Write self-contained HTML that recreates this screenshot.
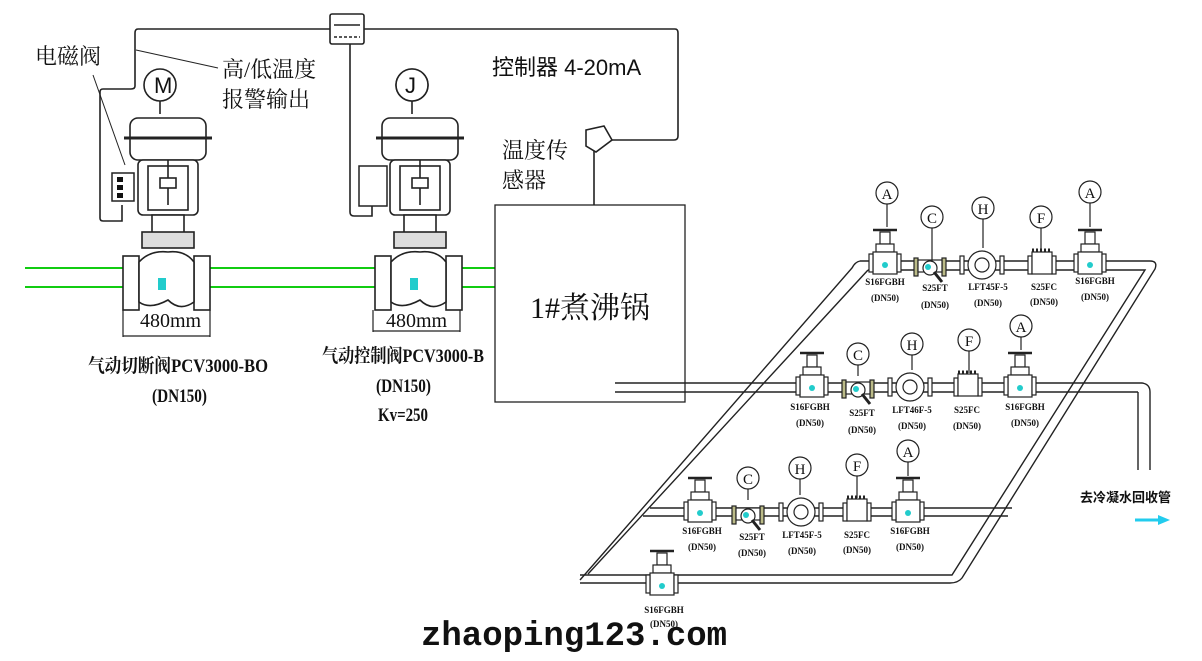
<!DOCTYPE html>
<html><head><meta charset="utf-8"><style>
html,body{margin:0;padding:0;background:#fff;}
svg{display:block;}
text{font-family:"Liberation Serif","Noto Serif CJK SC","Noto Sans CJK SC",serif;fill:#111;}
.s{font-family:"Liberation Sans","Noto Sans CJK SC",sans-serif;}
.n{font-family:"Liberation Sans Narrow","Liberation Sans",sans-serif;font-weight:bold;}
</style></head><body>
<svg width="1202" height="661" viewBox="0 0 1202 661" xmlns="http://www.w3.org/2000/svg">
<defs>
<g id="gv" stroke="#222" fill="#fff" stroke-width="1.2">
  <line x1="-12" y1="-32" x2="12" y2="-32" stroke-width="2.5"/>
  <rect x="-5" y="-30" width="10" height="12"/>
  <rect x="-9" y="-18" width="18" height="8"/>
  <rect x="-12" y="-10" width="24" height="22"/>
  <rect x="-16" y="-8" width="4" height="18"/>
  <rect x="12" y="-8" width="4" height="18"/>
  <circle cx="0" cy="3" r="3" fill="#2cc" stroke="none"/>
</g>
<g id="gc" stroke="#222" fill="#fff" stroke-width="1.2">
  <rect x="-16" y="-8" width="4" height="18" fill="#bb8"/>
  <rect x="12" y="-8" width="4" height="18" fill="#bb8"/>
  <rect x="-12" y="-6" width="24" height="12"/>
  <circle cx="0" cy="2" r="7"/>
  <circle cx="-2" cy="1" r="3" fill="#2cc" stroke="none"/>
  <line x1="4" y1="6" x2="12" y2="16" stroke-width="3"/>
</g>
<g id="gh" stroke="#222" fill="#fff" stroke-width="1.2">
  <rect x="-22" y="-8" width="4" height="18"/>
  <rect x="18" y="-8" width="4" height="18"/>
  <circle cx="0" cy="1" r="14"/>
  <circle cx="0" cy="1" r="7"/>
</g>
<g id="gf" stroke="#222" fill="#fff" stroke-width="1.2">
  <rect x="-14" y="-8" width="4" height="18"/>
  <rect x="10" y="-8" width="4" height="18"/>
  <rect x="-10" y="-12" width="20" height="22"/>
  <line x1="-10" y1="-14" x2="10" y2="-14" stroke-dasharray="2 2" stroke-width="3"/>
</g>
</defs>

<!-- wiring -->
<g fill="none" stroke="#222" stroke-width="1.6">
  <rect x="330" y="14" width="34" height="30" rx="2" fill="#fff"/>
  <line x1="334" y1="25" x2="360" y2="25"/>
  <line x1="334" y1="37" x2="360" y2="37" stroke-dasharray="3 2"/>
  <path d="M330 29 H138 Q135 29 135 33 V86 Q135 89 131 89 H103 Q100 89 100 92 V218 Q100 221 103 221 H122 V205"/>
  <path d="M364 29 H675 Q678 29 678 33 V136 Q678 140 674 140 H610"/>
  <path d="M350 44 V212 Q350 216 354 216 H372 V205"/>
  <line x1="594" y1="150" x2="594" y2="205"/>
  <path d="M586 130 L604 126 L612 140 L596 152 L586 146 Z" fill="#fff"/>
  <line x1="93" y1="75" x2="125" y2="165" stroke-width="1"/>
  <line x1="136" y1="50" x2="218" y2="68" stroke-width="1"/>
</g>
<text x="35" y="64" font-size="22">电磁阀</text>
<text x="222" y="77" font-size="22">高/低温度</text>
<text x="222" y="107" font-size="22">报警输出</text>
<text x="492" y="75" font-size="22" class="s">控制器 4-20mA</text>
<text x="502" y="158" font-size="22">温度传</text>
<text x="502" y="188" font-size="22">感器</text>

<!-- green pipes -->
<g stroke="#1c1" stroke-width="2">
  <line x1="25" y1="268" x2="495" y2="268"/>
  <line x1="25" y1="287" x2="495" y2="287"/>
</g>

<!-- control valves -->
<g id="cv1" stroke="#222" fill="#fff" stroke-width="1.6">
  <circle cx="160" cy="85" r="16"/>
  <line x1="160" y1="101" x2="160" y2="114"/>
  <rect x="130" y="118" width="76" height="42" rx="8"/>
  <line x1="124" y1="138" x2="212" y2="138" stroke-width="3"/>
  <rect x="138" y="160" width="60" height="55" rx="5"/>
  <rect x="148" y="166" width="40" height="44"/>
  <line x1="168" y1="160" x2="168" y2="205"/>
  <rect x="160" y="178" width="16" height="10"/>
  <rect x="152" y="215" width="32" height="22"/>
  <rect x="142" y="232" width="52" height="16" fill="#ddd"/>
  <rect x="123" y="256" width="16" height="54"/>
  <rect x="194" y="256" width="16" height="54"/>
  <path d="M139 262 Q150 250 168 252 Q185 250 194 262 V302 Q180 312 168 300 Q150 310 139 302 Z"/>
  <rect x="158" y="278" width="8" height="12" fill="#2cc" stroke="none"/>
</g>
<rect x="112" y="173" width="22" height="28" fill="#fff" stroke="#222" stroke-width="1.5"/>
<rect x="117" y="177" width="6" height="5" fill="#111"/><rect x="117" y="185" width="6" height="5" fill="#111"/><rect x="117" y="193" width="6" height="5" fill="#111"/>
<text x="154" y="93" font-size="22" class="s" font-weight="300">M</text>
<use href="#cv1" x="252"/>
<rect x="359" y="166" width="28" height="40" fill="#fff" stroke="#222" stroke-width="1.5"/>
<circle cx="412" cy="85" r="16" fill="#fff" stroke="#222" stroke-width="1.6"/>
<text x="405" y="93" font-size="22" class="s">J</text>

<g stroke="#222" stroke-width="1.2">
  <line x1="123" y1="310" x2="123" y2="337"/><line x1="210" y1="310" x2="210" y2="337"/><line x1="123" y1="336" x2="210" y2="336"/>
  <line x1="373" y1="310" x2="373" y2="332"/><line x1="460" y1="310" x2="460" y2="332"/><line x1="373" y1="331" x2="460" y2="331"/>
</g>
<text x="140" y="327" font-size="20">480mm</text>
<text x="386" y="327" font-size="20">480mm</text>

<!-- boiler -->
<rect x="495" y="205" width="190" height="197" fill="#fff" stroke="#222" stroke-width="1.3"/>
<text x="530" y="318" font-size="30">1#煮沸锅</text>

<text x="88" y="372" font-size="19" font-weight="bold" textLength="180" lengthAdjust="spacingAndGlyphs">气动切断阀PCV3000-BO</text>
<text x="152" y="402" font-size="19" font-weight="bold" textLength="55" lengthAdjust="spacingAndGlyphs">(DN150)</text>
<text x="322" y="362" font-size="19" font-weight="bold" textLength="162" lengthAdjust="spacingAndGlyphs">气动控制阀PCV3000-B</text>
<text x="376" y="392" font-size="19" font-weight="bold" textLength="55" lengthAdjust="spacingAndGlyphs">(DN150)</text>
<text x="378" y="421" font-size="19" font-weight="bold" textLength="50" lengthAdjust="spacingAndGlyphs">Kv=250</text>

<!-- pipe network -->
<g fill="none" stroke="#222" stroke-width="1.4">
  <path d="M860 261 H1150 Q1158 261 1155 269 L962 578 Q958 583 950 583 H580"/>
  <path d="M868 270 H1145 L952 575 H580"/>
  <path d="M860 261 Q855 262 852 268 L580 580"/>
  <path d="M868 270 L588 574"/>
  <line x1="615" y1="383" x2="1142" y2="383"/><line x1="615" y1="392" x2="1138" y2="392"/>
  <path d="M1142 383 Q1150 384 1150 392 V470"/><path d="M1138 392 V470"/>
  <line x1="650" y1="508" x2="1012" y2="508"/><line x1="643" y1="516" x2="1008" y2="516"/>
</g>

<!-- top row -->
<use href="#gv" x="885" y="262"/><use href="#gc" x="930" y="266"/><use href="#gh" x="982" y="264"/><use href="#gf" x="1042" y="264"/><use href="#gv" x="1090" y="262"/>
<!-- middle row -->
<use href="#gv" x="812" y="385"/><use href="#gc" x="858" y="388"/><use href="#gh" x="910" y="386"/><use href="#gf" x="968" y="386"/><use href="#gv" x="1020" y="385"/>
<!-- bottom row -->
<use href="#gv" x="700" y="510"/><use href="#gc" x="748" y="514"/><use href="#gh" x="801" y="511"/><use href="#gf" x="857" y="511"/><use href="#gv" x="908" y="510"/>
<use href="#gv" x="662" y="583"/>

<!-- callouts -->
<g fill="#fff" stroke="#222" stroke-width="1.2">
  <circle cx="887" cy="193" r="11"/><line x1="887" y1="204" x2="887" y2="227"/>
  <circle cx="932" cy="217" r="11"/><line x1="932" y1="228" x2="932" y2="262"/>
  <circle cx="983" cy="208" r="11"/><line x1="983" y1="219" x2="983" y2="248"/>
  <circle cx="1041" cy="217" r="11"/><line x1="1041" y1="228" x2="1041" y2="250"/>
  <circle cx="1090" cy="192" r="11"/><line x1="1090" y1="203" x2="1090" y2="227"/>
  <circle cx="858" cy="354" r="11"/><line x1="858" y1="365" x2="858" y2="376"/>
  <circle cx="912" cy="344" r="11"/><line x1="912" y1="355" x2="912" y2="370"/>
  <circle cx="969" cy="340" r="11"/><line x1="969" y1="351" x2="969" y2="373"/>
  <circle cx="1021" cy="326" r="11"/><line x1="1021" y1="337" x2="1021" y2="350"/>
  <circle cx="748" cy="478" r="11"/><line x1="748" y1="489" x2="748" y2="500"/>
  <circle cx="800" cy="468" r="11"/><line x1="800" y1="479" x2="800" y2="495"/>
  <circle cx="857" cy="465" r="11"/><line x1="857" y1="476" x2="857" y2="498"/>
  <circle cx="908" cy="451" r="11"/><line x1="908" y1="462" x2="908" y2="476"/>
</g>
<g class="s" font-size="15" text-anchor="middle">
  <text x="887" y="199">A</text><text x="932" y="223">C</text><text x="983" y="214">H</text><text x="1041" y="223">F</text><text x="1090" y="198">A</text>
  <text x="858" y="360">C</text><text x="912" y="350">H</text><text x="969" y="346">F</text><text x="1021" y="332">A</text>
  <text x="748" y="484">C</text><text x="800" y="474">H</text><text x="857" y="471">F</text><text x="908" y="457">A</text>
</g>
<g class="n" font-size="9" text-anchor="middle">
  <text x="885" y="285">S16FGBH</text><text x="885" y="301">(DN50)</text>
  <text x="935" y="291">S25FT</text><text x="935" y="308">(DN50)</text>
  <text x="988" y="290">LFT45F-5</text><text x="988" y="306">(DN50)</text>
  <text x="1044" y="290">S25FC</text><text x="1044" y="305">(DN50)</text>
  <text x="1095" y="284">S16FGBH</text><text x="1095" y="300">(DN50)</text>
  <text x="810" y="410">S16FGBH</text><text x="810" y="426">(DN50)</text>
  <text x="862" y="416">S25FT</text><text x="862" y="433">(DN50)</text>
  <text x="912" y="413">LFT46F-5</text><text x="912" y="429">(DN50)</text>
  <text x="967" y="413">S25FC</text><text x="967" y="429">(DN50)</text>
  <text x="1025" y="410">S16FGBH</text><text x="1025" y="426">(DN50)</text>
  <text x="702" y="534">S16FGBH</text><text x="702" y="550">(DN50)</text>
  <text x="752" y="540">S25FT</text><text x="752" y="556">(DN50)</text>
  <text x="802" y="538">LFT45F-5</text><text x="802" y="554">(DN50)</text>
  <text x="857" y="538">S25FC</text><text x="857" y="553">(DN50)</text>
  <text x="910" y="534">S16FGBH</text><text x="910" y="550">(DN50)</text>
  <text x="664" y="613">S16FGBH</text><text x="664" y="627">(DN50)</text>
</g>
<text x="1080" y="502" font-size="13" class="s" font-weight="bold">去冷凝水回收管</text>
<line x1="1135" y1="520" x2="1160" y2="520" stroke="#2ce" stroke-width="3"/>
<polygon points="1158,515 1170,520 1158,525" fill="#2ce"/>
<text x="421" y="645" font-size="34" font-weight="bold" style="font-family:'Liberation Mono',monospace">zhaoping123.com</text>
</svg>
</body></html>
